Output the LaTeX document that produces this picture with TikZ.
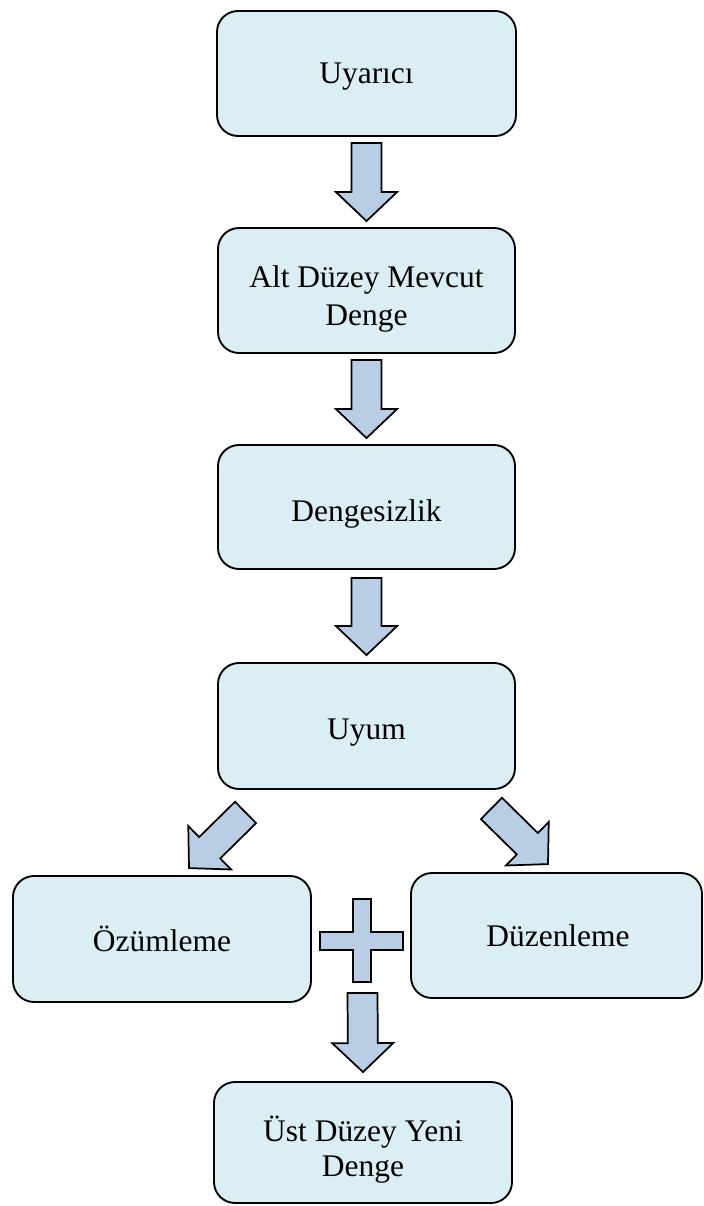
\documentclass[tikz,border=0pt]{standalone}
\usepackage{fontspec}
\setmainfont{Liberation Serif}
\usetikzlibrary{calc}
\definecolor{boxfill}{HTML}{DBEEF4}
\definecolor{arrowfill}{HTML}{B9CDE5}

% Block arrow from tail coordinate #1 to tip coordinate #2
\newcommand\blockarrow[2]{%
  \coordinate (#1-hb) at ($(#2)!21.75pt!(#1)$);
  \draw[blockarrow]
    ($(#1)!11.25pt!90:(#2)$)
    -- ($(#1-hb)!11.25pt!90:(#2)$)
    -- ($(#1-hb)!22.9pt!90:(#2)$)
    -- (#2)
    -- ($(#1-hb)!22.9pt!-90:(#2)$)
    -- ($(#1-hb)!11.25pt!-90:(#2)$)
    -- ($(#1)!11.25pt!-90:(#2)$)
    -- cycle;}

\begin{document}
\begin{tikzpicture}[x=0.75pt,y=-0.75pt,
  stage/.style={draw=black,line width=1.4pt,fill=boxfill,rounded corners=15.75pt,
    minimum width=222.75pt,minimum height=93.75pt,inner sep=0pt},
  caption/.style={inner sep=0pt,align=center,font=\fontsize{23.6}{28.5}\selectfont},
  blockarrow/.style={draw=black,line width=1.3pt,fill=arrowfill,line join=miter}]
\useasboundingbox (0,0) rectangle (703,1206);

% stages
\node[stage,minimum width=224.25pt] (b1) at (366.5,73.5) {};
\node[stage] (b2) at (366.5,290.5) {};
\node[stage,minimum height=93pt] (b3) at (366.5,507) {};
\node[stage,minimum height=94.5pt] (b4) at (366.5,726) {};
\node[stage,minimum width=223.5pt,minimum height=94.5pt] (b5) at (162,939) {};
\node[stage,minimum width=218.25pt] (b6) at (556.5,935.5) {};
\node[stage,minimum width=223.5pt,minimum height=90.75pt] (b7) at (363,1142.5) {};

% stage captions
\node[caption,anchor=base] (t1) at ($(b1.center)+(0,10.5)$) {Uyarıcı};
\node[caption] (t2) at ($(b2.center)+(0,8)$) {Alt Düzey Mevcut\\Denge};
\node[caption,anchor=base] (t3) at ($(b3.center)+(0,14)$) {Dengesizlik};
\node[caption,anchor=base] (t4) at ($(b4.center)+(0,13)$) {Uyum};
\node[caption,anchor=base] (t5) at ($(b5.center)+(0,12)$) {Özümleme};
\node[caption,anchor=base] (t6) at ($(b6.center)+(1.5,11)$) {Düzenleme};
\node[caption,font=\fontsize{23.6}{26.25}\selectfont] (t7) at ($(b7.center)+(0,7.5)$) {Üst Düzey Yeni\\Denge};

% arrow ends
\coordinate (a1) at ($(b1.south)+(0,6)$);
\coordinate (a1e) at ($(b2.north)+(0,-6)$);
\coordinate (a2) at ($(b2.south)+(0,6)$);
\coordinate (a2e) at ($(b3.north)+(0,-6)$);
\coordinate (a3) at ($(b3.south)+(0,8)$);
\coordinate (a3e) at ($(b4.north)+(0,-7)$);
\coordinate (al) at ($(b4.south west)+(28.5,22.5)$);
\coordinate (ale) at ($(b5.north)+(27,-7)$);
\coordinate (ar) at ($(b4.south east)+(-24.5,18.5)$);
\coordinate (are) at ($(b6.north)+(-8.5,-8)$);
\coordinate (plus) at (362,941);
\coordinate (a4) at ($(plus)+(0.5,52)$);
\coordinate (a4e) at ($(b7.north)+(0,-9)$);

\blockarrow{a1}{a1e}
\blockarrow{a2}{a2e}
\blockarrow{a3}{a3e}
\blockarrow{al}{ale}
\blockarrow{ar}{are}
\blockarrow{a4}{a4e}

% plus sign between the two branches
\draw[blockarrow]
  ($(plus)+(-9,-42)$) -- ($(plus)+(9,-42)$) -- ($(plus)+(9,-9)$) --
  ($(plus)+(41,-9)$) -- ($(plus)+(41,9)$) -- ($(plus)+(9,9)$) --
  ($(plus)+(9,41)$) -- ($(plus)+(-9,41)$) -- ($(plus)+(-9,9)$) --
  ($(plus)+(-42,9)$) -- ($(plus)+(-42,-9)$) -- ($(plus)+(-9,-9)$) -- cycle;
\end{tikzpicture}
\end{document}
